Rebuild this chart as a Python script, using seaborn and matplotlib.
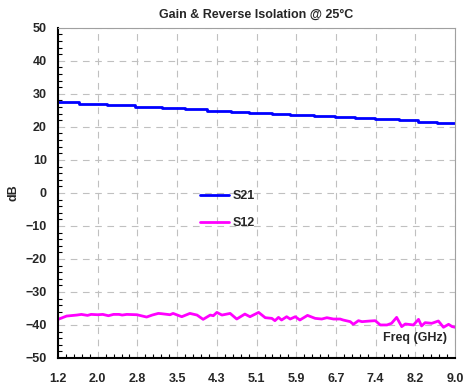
import numpy as np
import pandas as pd
import matplotlib
matplotlib.use("Agg")
import matplotlib.pyplot as plt
import seaborn as sns
from matplotlib.ticker import MultipleLocator, FixedLocator

# S21 gain (dB) - stepwise trace
s21_freq = [1.2, 1.62, 2.16, 2.71, 3.24, 3.70, 4.13, 4.60, 4.95, 5.40,
            5.76, 6.23, 6.64, 7.04, 7.43, 7.90, 8.26, 8.65, 9.0]
s21_db = [27.4, 26.9, 26.5, 26.1, 25.7, 25.3, 24.9, 24.6, 24.3, 24.0,
          23.6, 23.3, 22.9, 22.6, 22.3, 22.0, 21.6, 21.3, 21.1]

# S12 reverse isolation (dB)
s12_freq = [1.20, 1.37, 1.57, 1.66, 1.78, 1.85, 1.98, 2.08, 2.19, 2.29,
            2.40, 2.46, 2.55, 2.75, 2.94, 3.05, 3.17, 3.24, 3.40, 3.46,
            3.63, 3.79, 3.93, 4.05, 4.19, 4.25, 4.32, 4.42, 4.58, 4.71,
            4.87, 4.97, 5.14, 5.27, 5.40, 5.46, 5.53, 5.59, 5.69, 5.76,
            5.86, 5.95, 6.10, 6.25, 6.38, 6.48, 6.61, 6.74, 6.80, 6.94,
            7.00, 7.10, 7.17, 7.33, 7.43, 7.53, 7.66, 7.75, 7.85, 7.95,
            8.02, 8.18, 8.28, 8.34, 8.41, 8.54, 8.67, 8.77, 8.87, 8.94, 9.0]
s12_db = [-38.3, -37.3, -37.0, -36.8, -37.1, -36.8, -36.9, -36.8, -37.2, -36.8,
          -36.8, -37.0, -36.8, -36.9, -37.6, -37.0, -36.5, -36.6, -36.9, -36.5,
          -37.5, -36.5, -37.0, -38.3, -37.0, -37.2, -36.2, -37.0, -36.5, -38.2,
          -36.7, -37.5, -36.2, -37.8, -38.0, -38.7, -37.7, -38.5, -37.5, -38.2,
          -37.5, -38.5, -37.1, -38.0, -38.2, -37.8, -38.2, -38.2, -38.5, -39.0,
          -39.8, -38.7, -39.0, -38.8, -38.7, -40.0, -40.0, -39.5, -37.7, -40.5,
          -39.7, -40.0, -38.3, -40.3, -39.3, -39.5, -38.8, -40.7, -39.8, -40.5, -40.7]

xticks = [1.2, 2.0, 2.8, 3.5, 4.3, 5.1, 5.9, 6.7, 7.4, 8.2, 9.0]
xtick_pos = [1.2 + i * 0.78 for i in range(11)]
xminor_pos = [1.2 + i * 0.156 for i in range(51)]

sns.set_style("white")
plt.rcParams['font.family'] = ['Liberation Sans', 'DejaVu Sans']
plt.rcParams['font.weight'] = 'bold'

fig = plt.figure(figsize=(4.64, 3.87), dpi=100)
ax = fig.add_axes([0.125, 0.075, 0.856, 0.853])

sns.lineplot(x=s21_freq, y=s21_db, ax=ax, color='#0000ff', lw=2.0,
             drawstyle='steps-post', label='S21')
sns.lineplot(x=s12_freq, y=s12_db, ax=ax, color='#ff00ff', lw=2.0,
             label='S12')

ax.set_xlim(1.2, 9.0)
ax.set_ylim(-50, 50)
ax.xaxis.set_major_locator(FixedLocator(xtick_pos))
ax.set_xticklabels([f"{v:.1f}" for v in xticks])
ax.xaxis.set_minor_locator(FixedLocator(xminor_pos))
ax.yaxis.set_major_locator(MultipleLocator(10))
ax.yaxis.set_minor_locator(MultipleLocator(2))

ax.grid(True, which='major', color='#c0c0c0', linestyle=(0, (6, 5)), lw=0.8)
ax.tick_params(axis='both', which='major', direction='in', length=0,
               labelsize=9)
ax.tick_params(axis='x', which='major', pad=11)
ax.tick_params(axis='y', which='major', pad=8)
ax.tick_params(axis='both', which='minor', direction='in', length=3,
               width=0.8, color='black')
ax.tick_params(axis='both', which='minor', left=True, bottom=True)
for lab in ax.get_xticklabels() + ax.get_yticklabels():
    lab.set_fontweight('bold')

for side in ['left', 'bottom']:
    ax.spines[side].set_color('black')
    ax.spines[side].set_linewidth(1.5)
for side in ['top', 'right']:
    ax.spines[side].set_color('#a0a0a0')
    ax.spines[side].set_linewidth(0.8)

ax.set_title("Gain & Reverse Isolation @ 25°C", fontsize=9, fontweight='bold', pad=7)
ax.set_ylabel("dB", fontsize=9, fontweight='bold')
ax.yaxis.set_label_coords(-0.097, 0.5)
ax.set_xlabel("")
ax.text(0.98, 0.06, "Freq (GHz)", transform=ax.transAxes, ha='right',
        va='center', fontsize=9, fontweight='bold')

ax.legend(loc='center left', bbox_to_anchor=(0.33, 0.45), frameon=False,
          handlelength=2.3, handletextpad=0.3, labelspacing=1.2,
          prop={'weight': 'bold', 'size': 9})

fig.savefig("out.png", dpi=100)
